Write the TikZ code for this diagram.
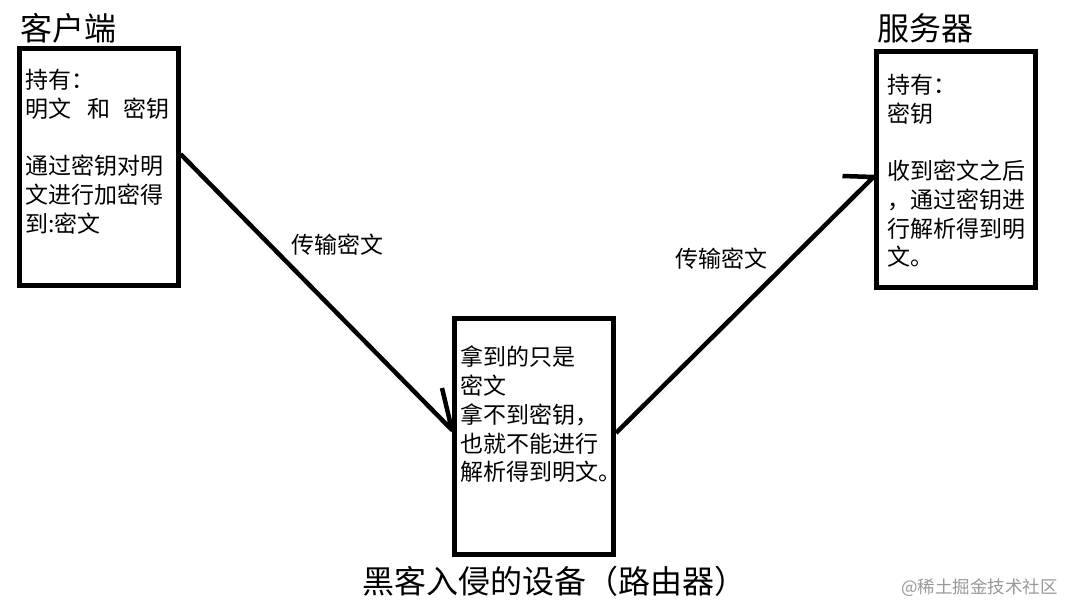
\documentclass[tikz,border=0pt]{standalone}
\usepackage{fontspec}
\setmainfont{Noto Sans CJK SC}
\usepackage{xcolor}
\usepackage{tikz}

\begin{document}
\begin{tikzpicture}[x=1pt,y=-1pt,
		box/.style={draw,line width=5pt,minimum width=159pt,minimum height=236pt,inner sep=0pt},
		txt/.style={font=\fontsize{23}{28.7}\selectfont,align=left,inner sep=0pt,anchor=north west},
		lbl/.style={font=\fontsize{23}{23}\selectfont,inner sep=0pt},
		title/.style={font=\fontsize{32}{32}\selectfont,inner sep=0pt},
		wire/.style={line width=4.5pt,line join=round}]
		\useasboundingbox (0,0) rectangle (1067,604);
		% boxes
		\node[box] (C) at (98.5,167) {};
		\node[box] (R) at (534,436) {};
		\node[box] (S) at (955.5,169.5) {};
		%
		\node[title,anchor=west] (C') at (20,28) {客户端};
		\node[title,anchor=west] (S') at (877,28) {服务器};
		\node[title,anchor=west] (R') at (362,581) {黑客入侵的设备（路由器）};
		% box texts
		\node[txt] (C'') at (25,69) {持有：\\明文\hspace{16pt}和\hspace{13pt}密钥\\[28.7pt]通过密钥对明\\文进行加密得\\到:密文};
		\node[txt] (R'') at (460,346) {拿到的只是\\密文\\拿不到密钥，\\也就不能进行\\解析得到明文。};
		\node[txt] (S'') at (887,74) {持有：\\密钥\\[28.7pt]收到密文之后\\，通过密钥进\\行解析得到明\\文。};
		%
		\coordinate (c1) at ([yshift=13pt]C.east);
		\coordinate (r1) at ([yshift=6pt]R.west);
		\coordinate (r2) at ([yshift=3pt]R.east);
		\coordinate (s1) at ([yshift=-7.5pt]S.west);
		% connectors
		\draw[wire] (c1) -- (r1) -- ++(-10,-42);
		\draw[wire] (r2) -- (s1) -- ++(-31,-1);
		\node[lbl] (L1) at (337,245) {传输密文};
		\node[lbl] (L2) at (721,259) {传输密文};
		%
		\node[font=\fontsize{17.5}{17.5}\selectfont,text=black!40,inner sep=0pt,anchor=west] (W) at (901,588) {@稀土掘金技术社区};
	\end{tikzpicture}
\end{document}
